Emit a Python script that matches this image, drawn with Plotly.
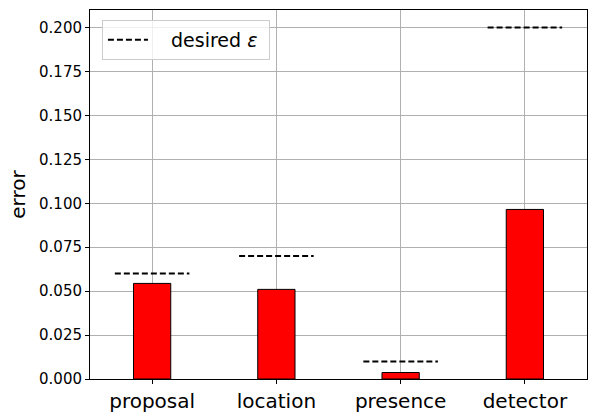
import plotly.graph_objects as go

categories = ["proposal", "location", "presence", "detector"]
errors = [0.0544, 0.051, 0.0037, 0.0965]
desired = [0.06, 0.07, 0.01, 0.2]
y_ticks = [0.0, 0.025, 0.05, 0.075, 0.1, 0.125, 0.15, 0.175, 0.2]

xs = list(range(len(categories)))
half = 0.3

dx, dy = [], []
for x, d in zip(xs, desired):
    dx += [x - half, x + half, None]
    dy += [d, d, None]

fig = go.Figure()
fig.add_trace(go.Bar(
    x=xs, y=errors, width=0.3,
    marker=dict(color="#ff0000", line=dict(color="black", width=1)),
    showlegend=False,
))
fig.add_trace(go.Scatter(
    x=dx, y=dy, mode="lines", name="&nbsp;&nbsp;&nbsp;desired <i>ε</i>&nbsp;",
    line=dict(color="black", width=2, dash="6px,3px"),
))

fig.update_layout(
    width=596, height=419,
    margin=dict(l=90, r=9, t=10, b=40, autoexpand=False),
    plot_bgcolor="white", paper_bgcolor="white",
    font=dict(family="DejaVu Sans", color="black"),
    legend=dict(x=0.024, y=0.973, xanchor="left", yanchor="top",
                bgcolor="rgba(255,255,255,0.8)", bordercolor="#cccccc", borderwidth=1,
                font=dict(size=19), itemwidth=40),
)
fig.update_xaxes(
    range=[-0.5, 3.5], tickvals=xs, ticktext=categories,
    tickfont=dict(size=20), ticks="outside", ticklen=4, tickcolor="black",
    showgrid=True, gridcolor="#b0b0b0", gridwidth=1,
    showline=True, linecolor="black", linewidth=1, mirror=True,
    layer="above traces", zeroline=False,
)
fig.update_yaxes(
    range=[0, 0.21], tickvals=y_ticks, tickformat=".3f",
    tickfont=dict(size=15), ticks="outside", ticklen=4, tickcolor="black",
    showgrid=True, gridcolor="#b0b0b0", gridwidth=1,
    showline=True, linecolor="black", linewidth=1, mirror=True,
    layer="above traces", zeroline=False,
    title=dict(text="error", font=dict(size=20), standoff=8),
)
fig.write_html("out.html", config={"displayModeBar": False},
               post_script="document.body.style.margin='0';")
